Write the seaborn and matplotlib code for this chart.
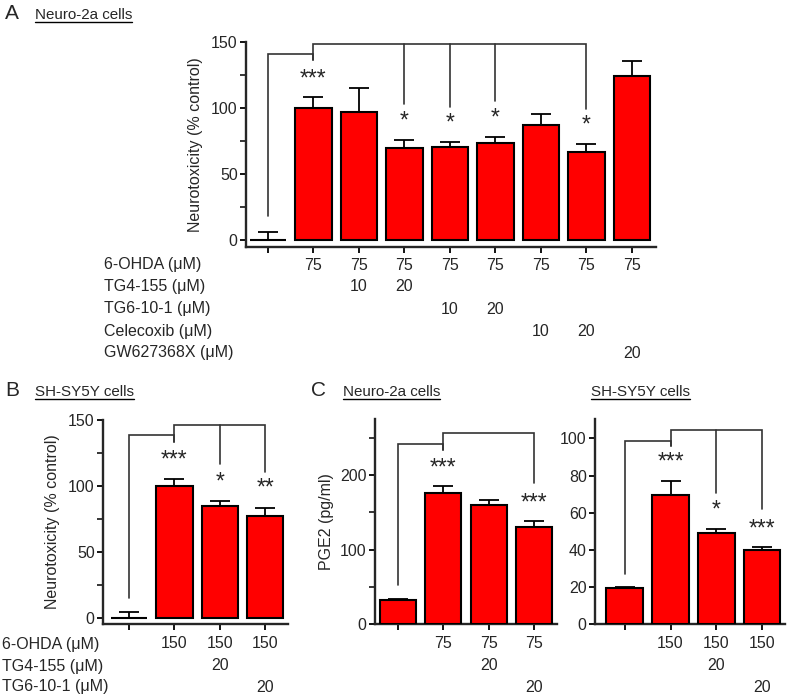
import matplotlib
matplotlib.use("Agg")
import matplotlib.pyplot as plt
import matplotlib.transforms as mtransforms
import seaborn as sns
import numpy as np
import pandas as pd

sns.set_style("ticks")
plt.rcParams['font.family'] = ['Liberation Sans', 'DejaVu Sans']

# ---- data ----
# Panel A: Neuro-2a neurotoxicity
a_groups = ["ctrl", "ohda", "tg4_10", "tg4_20", "tg6_10", "tg6_20", "cel_10", "cel_20", "gw_20"]
a_mean = [0, 100, 97, 70, 70.5, 73.5, 87, 66.5, 124.5]
a_err = [6, 8, 18, 6, 4, 4.5, 8.5, 6.5, 11]
a_rows = ["6-OHDA (\u03bcM)", "TG4-155 (\u03bcM)", "TG6-10-1 (\u03bcM)", "Celecoxib (\u03bcM)", "GW627368X (\u03bcM)"]
a_ohda = ["", "75", "75", "75", "75", "75", "75", "75", "75"]
a_tg4 = ["", "", "10", "20", "", "", "", "", ""]
a_tg6 = ["", "", "", "", "10", "20", "", "", ""]
a_cel = ["", "", "", "", "", "", "10", "20", ""]
a_gw = ["", "", "", "", "", "", "", "", "20"]
a_stars = {1: ("***", 122), 3: ("*", 90), 4: ("*", 89), 5: ("*", 92.5), 7: ("*", 87)}

# Panel B: SH-SY5Y neurotoxicity
b_groups = ["ctrl", "ohda", "tg4_20", "tg6_20"]
b_mean = [0, 100, 84.5, 77]
b_err = [5, 5, 4, 6.5]
b_rows = ["6-OHDA (\u03bcM)", "TG4-155 (\u03bcM)", "TG6-10-1 (\u03bcM)"]
b_ohda = ["", "150", "150", "150"]
b_tg4 = ["", "", "20", ""]
b_tg6 = ["", "", "", "20"]
b_stars = {1: ("***", 119.5), 2: ("*", 103), 3: ("**", 98)}

# Panel C: PGE2
c1_mean = [32, 176, 160, 131]
c1_err = [2, 9, 6, 7]
c1_ohda = ["", "75", "75", "75"]
c1_stars = {1: ("***", 209.6), 3: ("***", 162.8)}

c2_mean = [19.3, 69.7, 49.2, 40.1]
c2_err = [0.7, 7.5, 2.3, 1.2]
c2_ohda = ["", "150", "150", "150"]
c2_stars = {1: ("***", 87.4), 2: ("*", 61.5), 3: ("***", 51)}

W, H = 787, 698
fig = plt.figure(figsize=(W / 100, H / 100), dpi=100)


def fx(px):
    return px / W


def fy(py):
    return 1 - py / H


def bar_panel(rect, groups, means, errs, ylim, xlim, yticks, minor, ylabel=None, labelpad=4):
    ax = fig.add_axes(rect)
    df = pd.DataFrame({"group": groups, "value": means})
    sns.barplot(data=df, x="group", y="value", order=groups, color="#ff0000",
                saturation=1, edgecolor="black", linewidth=1.5, width=0.8, ax=ax, zorder=3)
    ax.errorbar(np.arange(len(means)), means, yerr=[np.zeros(len(errs)), errs], fmt="none",
                ecolor="black", elinewidth=1.3, capsize=7.5, capthick=1.3, zorder=2)
    ax.set_xlim(*xlim)
    ax.set_ylim(*ylim)
    ax.set_yticks(yticks)
    ax.set_yticks(minor, minor=True)
    ax.set_xticks(np.arange(len(means)))
    ax.set_xticklabels([])
    ax.set_xlabel("")
    ax.set_ylabel(ylabel if ylabel else "", fontsize=11.5, labelpad=labelpad)
    for s in ["top", "right"]:
        ax.spines[s].set_visible(False)
    for s in ["left", "bottom"]:
        ax.spines[s].set_linewidth(1.7)
    ax.tick_params(axis="both", which="major", width=1.3, length=4, labelsize=11.5, pad=2, color="black")
    ax.tick_params(axis="y", which="minor", width=1.3, length=4)
    ax.tick_params(axis="x", which="minor", bottom=False)
    return ax


def bracket(ax, pts):
    xs, ys = zip(*pts)
    ax.plot(xs, ys, color="#333333", lw=1.2, solid_joinstyle="miter", clip_on=False, zorder=4)


def stars(ax, d):
    for i, (s, y) in d.items():
        ax.text(i, y, s, ha="center", va="center", fontsize=16.5, zorder=5)


def table(ax, rows_y, rows_vals):
    tr = mtransforms.blended_transform_factory(ax.transData, fig.transFigure)
    for py, vals in zip(rows_y, rows_vals):
        for i, v in enumerate(vals):
            if v:
                ax.text(i, fy(py), v, transform=tr, ha="center", va="center", fontsize=11.5)


def row_labels(px, rows_y, labels):
    for py, lab in zip(rows_y, labels):
        fig.text(fx(px), fy(py), lab, ha="left", va="center", fontsize=11.5)


def header(px_letter, px_title, py, letter, title):
    if letter:
        fig.text(fx(px_letter), fy(py), letter, fontsize=15, ha="left", va="baseline")
    t = fig.text(fx(px_title), fy(py), title, fontsize=10.9, ha="left", va="baseline")
    fig.canvas.draw()
    bb = t.get_window_extent(renderer=fig.canvas.get_renderer())
    fig.add_artist(plt.Line2D([bb.x0 / W, bb.x1 / W], [fy(py + 3), fy(py + 3)],
                              transform=fig.transFigure, color="black", lw=1.0))


# ---- Panel A ----
axA = bar_panel([fx(246), fy(247), fx(656 - 246), (247 - 42) / H], a_groups, a_mean, a_err,
                (-5.3, 150), (-0.48, 8.53), [0, 50, 100, 150], [25, 75, 125],
                "Neurotoxicity (% control)", labelpad=6)
bracket(axA, [(0, 18), (0, 140.6), (1, 140.6), (1, 136)])
bracket(axA, [(1, 136), (1, 148.7), (7, 148.7), (7, 99.5)])
for i, y in [(3, 103), (4, 101), (5, 105)]:
    bracket(axA, [(i, 148.7), (i, y)])
stars(axA, a_stars)
a_rows_y = [265, 287, 309, 331, 353]
row_labels(104, a_rows_y, a_rows)
table(axA, a_rows_y, [a_ohda, a_tg4, a_tg6, a_cel, a_gw])
header(5, 35, 19, "A", "Neuro-2a cells")

# ---- Panel B ----
axB = bar_panel([fx(103), fy(624), fx(288 - 103), (624 - 419.6) / H], b_groups, b_mean, b_err,
                (-4.3, 150), (-0.57, 3.5), [0, 50, 100, 150], [25, 75, 125],
                "Neurotoxicity (% control)", labelpad=6)
bracket(axB, [(0, 15.3), (0, 138), (1, 138), (1, 133)])
bracket(axB, [(1, 133), (1, 146), (3, 146), (3, 110.5)])
bracket(axB, [(2, 146), (2, 116.5)])
stars(axB, b_stars)
bc_rows_y = [644, 666, 687]
row_labels(2, bc_rows_y, b_rows)
table(axB, bc_rows_y, [b_ohda, b_tg4, b_tg6])
header(5, 35, 396, "B", "SH-SY5Y cells")

# ---- Panel C left ----
axC1 = bar_panel([fx(375), fy(624.3), fx(557 - 375), (624.3 - 419) / H], b_groups, c1_mean, c1_err,
                 (0, 275), (-0.51, 3.51), [0, 100, 200], [50, 150, 250],
                 "PGE2 (pg/ml)", labelpad=4)
bracket(axC1, [(0, 53), (0, 241.8), (1, 241.8), (1, 234)])
bracket(axC1, [(1, 234), (1, 256.5), (3, 256.5), (3, 189.6)])
stars(axC1, c1_stars)
table(axC1, bc_rows_y, [c1_ohda, b_tg4, b_tg6])
header(311, 343, 396, "C", "Neuro-2a cells")

# ---- Panel C right ----
axC2 = bar_panel([fx(595), fy(624.3), fx(785 - 595), (624.3 - 419) / H], b_groups, c2_mean, c2_err,
                 (0, 110.4), (-0.65, 3.5), [0, 20, 40, 60, 80, 100], [], None)
bracket(axC2, [(0, 27), (0, 98.7), (1, 98.7), (1, 95.9)])
bracket(axC2, [(1, 95.9), (1, 104.3), (3, 104.3), (3, 61.8)])
bracket(axC2, [(2, 104.3), (2, 70.8)])
stars(axC2, c2_stars)
table(axC2, bc_rows_y, [c2_ohda, b_tg4, b_tg6])
header(None, 591, 396, None, "SH-SY5Y cells")

fig.savefig("out.png", dpi=100)
